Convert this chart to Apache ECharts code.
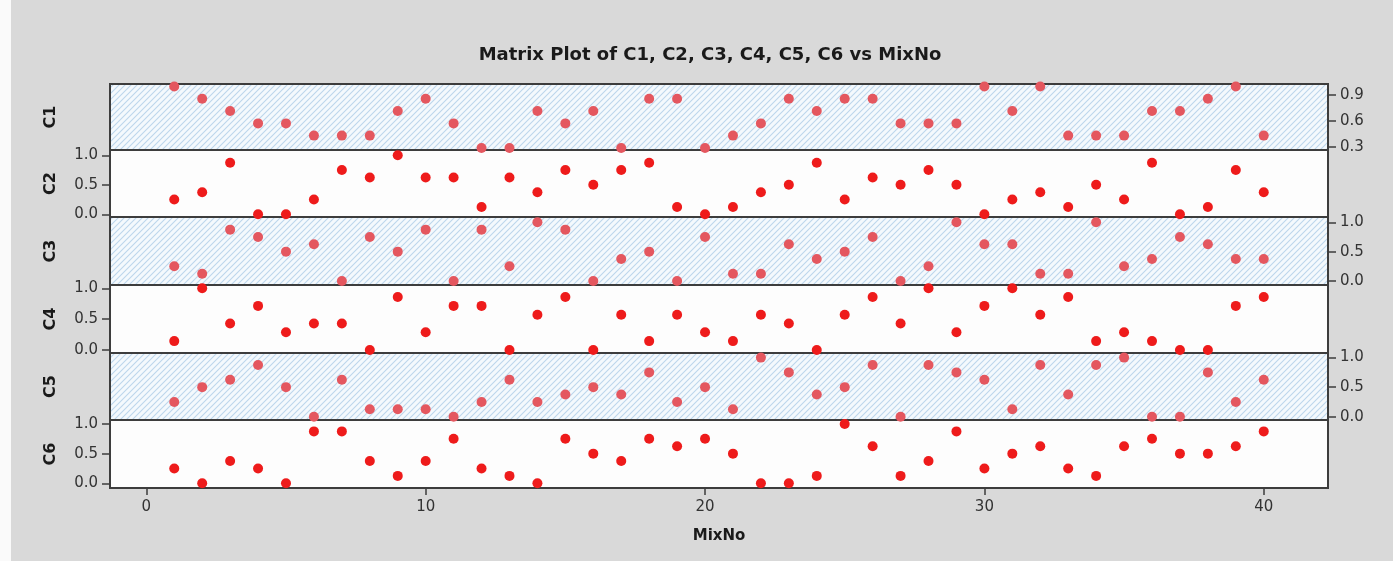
<!DOCTYPE html>
<html>
<head>
<meta charset="utf-8">
<title>Matrix Plot of C1, C2, C3, C4, C5, C6 vs MixNo</title>
<script src="https://cdn.jsdelivr.net/npm/echarts@6/dist/echarts.min.js"></script>
<style>
  html, body { margin: 0; padding: 0; background: #ffffff; }
  #chart { width: 1393px; height: 561px; }
</style>
</head>
<body>
<div id="chart"></div>
<script>
// Run numbers 1..40
const mixNo = [1, 2, 3, 4, 5, 6, 7, 8, 9, 10,
               11, 12, 13, 14, 15, 16, 17, 18, 19, 20,
               21, 22, 23, 24, 25, 26, 27, 28, 29, 30,
               31, 32, 33, 34, 35, 36, 37, 38, 39, 40];

// Component proportions per mix
const c1 = [1.0, 0.857, 0.714, 0.571, 0.571, 0.429, 0.429, 0.429, 0.714, 0.857,
            0.571, 0.286, 0.286, 0.714, 0.571, 0.714, 0.286, 0.857, 0.857, 0.286,
            0.429, 0.571, 0.857, 0.714, 0.857, 0.857, 0.571, 0.571, 0.571, 1.0,
            0.714, 1.0, 0.429, 0.429, 0.429, 0.714, 0.714, 0.857, 1.0, 0.429];
const c2 = [0.25, 0.375, 0.875, 0.0, 0.0, 0.25, 0.75, 0.625, 1.0, 0.625,
            0.625, 0.125, 0.625, 0.375, 0.75, 0.5, 0.75, 0.875, 0.125, 0.0,
            0.125, 0.375, 0.5, 0.875, 0.25, 0.625, 0.5, 0.75, 0.5, 0.0,
            0.25, 0.375, 0.125, 0.5, 0.25, 0.875, 0.0, 0.125, 0.75, 0.375];
const c3 = [0.25, 0.125, 0.875, 0.75, 0.5, 0.625, 0.0, 0.75, 0.5, 0.875,
            0.0, 0.875, 0.25, 1.0, 0.875, 0.0, 0.375, 0.5, 0.0, 0.75,
            0.125, 0.125, 0.625, 0.375, 0.5, 0.75, 0.0, 0.25, 1.0, 0.625,
            0.625, 0.125, 0.125, 1.0, 0.25, 0.375, 0.75, 0.625, 0.375, 0.375];
const c4 = [0.143, 1.0, 0.429, 0.714, 0.286, 0.429, 0.429, 0.0, 0.857, 0.286,
            0.714, 0.714, 0.0, 0.571, 0.857, 0.0, 0.571, 0.143, 0.571, 0.286,
            0.143, 0.571, 0.429, 0.0, 0.571, 0.857, 0.429, 1.0, 0.286, 0.714,
            1.0, 0.571, 0.857, 0.143, 0.286, 0.143, 0.0, 0.0, 0.714, 0.857];
const c5 = [0.25, 0.5, 0.625, 0.875, 0.5, 0.0, 0.625, 0.125, 0.125, 0.125,
            0.0, 0.25, 0.625, 0.25, 0.375, 0.5, 0.375, 0.75, 0.25, 0.5,
            0.125, 1.0, 0.75, 0.375, 0.5, 0.875, 0.0, 0.875, 0.75, 0.625,
            0.125, 0.875, 0.375, 0.875, 1.0, 0.0, 0.0, 0.75, 0.25, 0.625];
const c6 = [0.25, 0.0, 0.375, 0.25, 0.0, 0.875, 0.875, 0.375, 0.125, 0.375,
            0.75, 0.25, 0.125, 0.0, 0.75, 0.5, 0.375, 0.75, 0.625, 0.75,
            0.5, 0.0, 0.0, 0.125, 1.0, 0.625, 0.125, 0.375, 0.875, 0.25,
            0.5, 0.625, 0.25, 0.125, 0.625, 0.75, 0.5, 0.5, 0.625, 0.875];

const xTicks = [0, 10, 20, 30, 40];
const c1Ticks = [0.3, 0.6, 0.9];
const unitTicks = [0.0, 0.5, 1.0];

// Panel descriptions: name, values, value range, tick values, side of the value axis, shading
const panels = [
  { name: 'C1', values: c1, min: 0.262, max: 1.028, ticks: c1Ticks,   side: 'right', shaded: true  },
  { name: 'C2', values: c2, min: -0.046, max: 1.09, ticks: unitTicks, side: 'left',  shaded: false },
  { name: 'C3', values: c3, min: -0.068, max: 1.09, ticks: unitTicks, side: 'right', shaded: true  },
  { name: 'C4', values: c4, min: -0.05,  max: 1.053, ticks: unitTicks, side: 'left', shaded: false },
  { name: 'C5', values: c5, min: -0.056, max: 1.078, ticks: unitTicks, side: 'right', shaded: true },
  { name: 'C6', values: c6, min: -0.079, max: 1.067, ticks: unitTicks, side: 'left', shaded: false }
];
// Horizontal rules between the stacked panels (pixel rows)
const edges = [84, 150, 217, 285, 353, 420, 488];

// Light blue diagonal hatching used behind alternating panels
function hatchPattern() {
  const s = 6;
  const cv = document.createElement('canvas');
  cv.width = s; cv.height = s;
  const ctx = cv.getContext('2d');
  ctx.fillStyle = '#f4f9fd';
  ctx.fillRect(0, 0, s, s);
  ctx.strokeStyle = '#bcd6ec';
  ctx.lineWidth = 1.1;
  ctx.beginPath();
  ctx.moveTo(-1, s + 1); ctx.lineTo(s + 1, -1);
  ctx.moveTo(-1, 1); ctx.lineTo(1, -1);
  ctx.moveTo(s - 1, s + 1); ctx.lineTo(s + 1, s - 1);
  ctx.stroke();
  return { image: cv, repeat: 'repeat' };
}
const hatch = hatchPattern();

const textFont = 'DejaVu Sans';
const axisColor = '#3d3d3d';
const grids = [], xAxes = [], yAxes = [], series = [];

panels.forEach((p, i) => {
  const isLast = i === panels.length - 1;
  grids.push({
    left: 110, right: 65,
    top: edges[i], height: edges[i + 1] - edges[i],
    show: true,
    backgroundColor: p.shaded ? hatch : '#fdfdfd',
    borderColor: axisColor, borderWidth: 2
  });
  xAxes.push({
    gridIndex: i, type: 'value', min: -1.3, max: 42.3, position: 'bottom',
    axisLine: { show: isLast, onZero: false, lineStyle: { color: axisColor, width: 2 } },
    axisTick: { show: isLast, length: 7, customValues: xTicks, lineStyle: { color: axisColor, width: 1.5 } },
    axisLabel: { show: isLast, customValues: xTicks, margin: 12, color: '#333', fontFamily: textFont, fontSize: 15 },
    splitLine: { show: false },
    name: isLast ? 'MixNo' : '', nameLocation: 'middle', nameGap: 41,
    nameTextStyle: { color: '#1a1a1a', fontFamily: textFont, fontWeight: 'bold', fontSize: 15 }
  });
  // value axis with ticks on the stated side
  yAxes.push({
    gridIndex: i, type: 'value', position: p.side, min: p.min, max: p.max,
    axisLine: { show: false, onZero: false },
    axisTick: { show: true, inside: false, length: 8, customValues: p.ticks, lineStyle: { color: axisColor, width: 1.5 } },
    axisLabel: { show: true, customValues: p.ticks, margin: 12, color: '#333', fontFamily: textFont, fontSize: 15,
                 formatter: v => v.toFixed(1) },
    splitLine: { show: false }
  });
  // panel title on the left edge
  yAxes.push({
    gridIndex: i, type: 'value', position: 'left', min: p.min, max: p.max,
    axisLine: { show: false, onZero: false }, axisTick: { show: false }, axisLabel: { show: false }, splitLine: { show: false },
    name: p.name, nameLocation: 'middle', nameRotate: 90, nameGap: 51,
    nameTextStyle: { color: '#1a1a1a', fontFamily: textFont, fontWeight: 'bold', fontSize: 16 }
  });
  series.push({
    type: 'scatter', xAxisIndex: i, yAxisIndex: i * 2,
    symbol: 'circle', symbolSize: 10,
    itemStyle: { color: p.shaded ? '#e4575f' : '#ee1b1b', opacity: 1 },
    data: mixNo.map((x, k) => [x, p.values[k]]),
    silent: true, animation: false
  });
});

const chart = echarts.init(document.getElementById('chart'), null, { renderer: 'canvas' });
chart.setOption({
  backgroundColor: '#d9d9d9',
  animation: false,
  title: {
    text: 'Matrix Plot of C1, C2, C3, C4, C5, C6 vs MixNo',
    left: 705, top: 41, textAlign: 'center',
    textStyle: { color: '#1a1a1a', fontFamily: textFont, fontWeight: 'bold', fontSize: 18 }
  },
  graphic: [
    { type: 'rect', left: 0, top: 0, shape: { width: 11, height: 561 }, style: { fill: '#fafafa' }, silent: true }
  ],
  grid: grids,
  xAxis: xAxes,
  yAxis: yAxes,
  series: series
});
</script>
</body>
</html>
